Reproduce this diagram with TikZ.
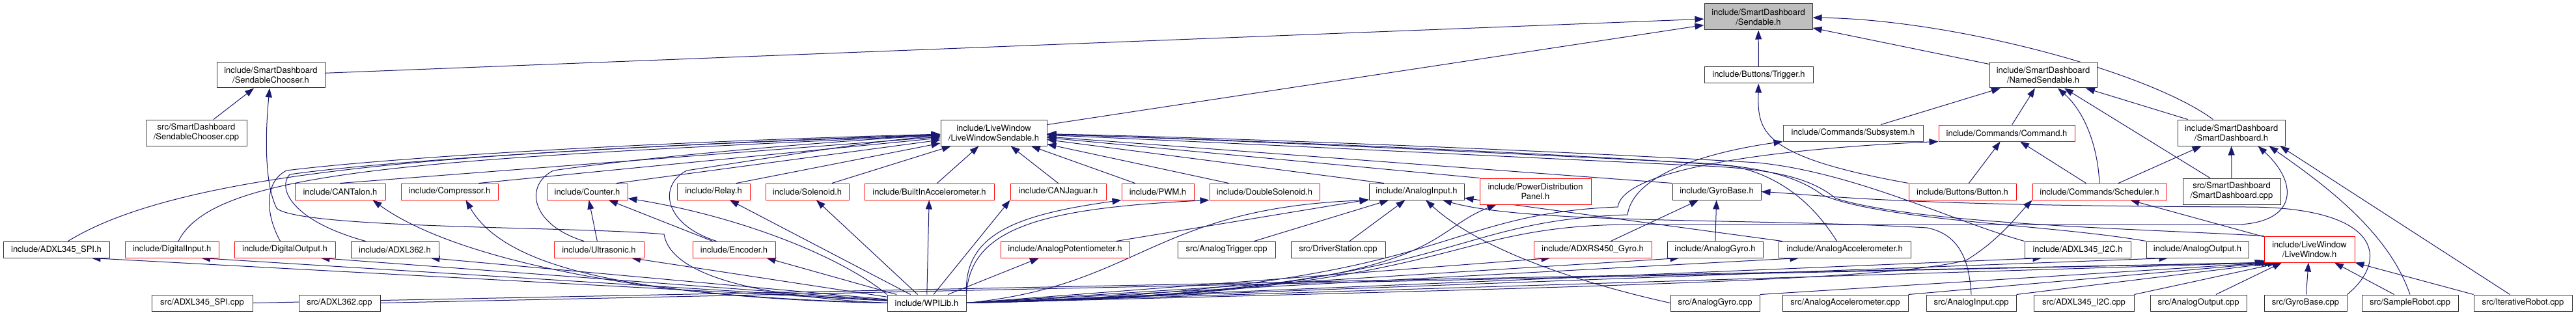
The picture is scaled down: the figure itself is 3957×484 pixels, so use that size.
\documentclass[tikz,border=0pt]{standalone}
\usepackage{fontspec}
\setmainfont{TeX Gyre Heros}
\usetikzlibrary{arrows.meta}
\definecolor{edgec}{HTML}{191970}
\definecolor{boxgrey}{HTML}{BFBFBF}
\pgfdeclarelayer{edgelayer}
\pgfsetlayers{edgelayer,main}
\newcommand\bxnode[7]{\node[#1,minimum width=#5pt,minimum height=#6pt] (#2) at (#3,#4) {#7};}
\begin{document}
\begin{tikzpicture}[x=1pt,y=-1pt,
  bx/.style={draw=black!80,line width=1pt,fill=white,inner sep=0pt,align=center,font=\fontsize{13}{15}\selectfont},
  rbx/.style={bx,draw=red},
  gbx/.style={bx,fill=boxgrey},
  lnk/.style={draw=edgec,line width=1pt,-{Triangle[length=14pt,width=10pt]}}]
\useasboundingbox (0,0) rectangle (3957,484);
% ---------- nodes ----------
\bxnode{gbx}{S}{2701}{26}{166}{40}{include/SmartDashboard\\/Sendable.h}
\bxnode{bx}{SCh}{416}{115.5}{166}{39}{include/SmartDashboard\\/SendableChooser.h}
\bxnode{bx}{Trg}{2701.5}{115.5}{167}{25}{include/Buttons/Trigger.h}
\bxnode{bx}{NS}{3138.5}{115.5}{165}{39}{include/SmartDashboard\\/NamedSendable.h}
\bxnode{bx}{SCcpp}{301.5}{204}{155}{40}{src/SmartDashboard\\/SendableChooser.cpp}
\bxnode{bx}{LWS}{1526.5}{204}{163}{40}{include/LiveWindow\\/LiveWindowSendable.h}
\bxnode{rbx}{Sub}{2846.5}{204.5}{215}{25}{include/Commands/Subsystem.h}
\bxnode{rbx}{Cmd}{3082.5}{204.5}{209}{25}{include/Commands/Command.h}
\bxnode{bx}{SDh}{3427.5}{204}{165}{40}{include/SmartDashboard\\/SmartDashboard.h}
\bxnode{rbx}{CT}{522.5}{294.5}{139}{25}{include/CANTalon.h}
\bxnode{rbx}{Cmp}{690.5}{294.5}{149}{25}{include/Compressor.h}
\bxnode{rbx}{Cnt}{902}{294.5}{124}{25}{include/Counter.h}
\bxnode{rbx}{Rel}{1096}{294.5}{112}{25}{include/Relay.h}
\bxnode{rbx}{Sol}{1240}{294.5}{128}{25}{include/Solenoid.h}
\bxnode{rbx}{BIA}{1427.5}{294.5}{199}{25}{include/BuiltInAccelerometer.h}
\bxnode{rbx}{CJ}{1625.5}{294.5}{147}{25}{include/CANJaguar.h}
\bxnode{rbx}{PWM}{1778.5}{294.5}{111}{25}{include/PWM.h}
\bxnode{rbx}{DS}{1942.5}{294.5}{169}{25}{include/DoubleSolenoid.h}
\bxnode{bx}{AI}{2176}{294.5}{146}{25}{include/AnalogInput.h}
\bxnode{rbx}{PDP}{2358.5}{294}{171}{40}{include/PowerDistribution\\Panel.h}
\bxnode{bx}{GB}{2637}{294.5}{136}{25}{include/GyroBase.h}
\bxnode{rbx}{Btn}{3014.5}{294.5}{165}{25}{include/Buttons/Button.h}
\bxnode{rbx}{Sch}{3225}{294.5}{206}{25}{include/Commands/Scheduler.h}
\bxnode{bx}{SDcpp}{3428}{294}{150}{40}{src/SmartDashboard\\/SmartDashboard.cpp}
\bxnode{bx}{SPIh}{86.5}{383.5}{163}{25}{include/ADXL345\_SPI.h}
\bxnode{rbx}{DI}{264}{383.5}{144}{25}{include/DigitalInput.h}
\bxnode{rbx}{DO}{437.5}{383.5}{155}{25}{include/DigitalOutput.h}
\bxnode{bx}{A362h}{606.5}{383.5}{135}{25}{include/ADXL362.h}
\bxnode{rbx}{US}{920}{383.5}{138}{25}{include/Ultrasonic.h}
\bxnode{rbx}{Enc}{1127.5}{383.5}{127}{25}{include/Encoder.h}
\bxnode{rbx}{AP}{1636}{383.5}{198}{25}{include/AnalogPotentiometer.h}
\bxnode{bx}{ATcpp}{1884}{383.5}{150}{25}{src/AnalogTrigger.cpp}
\bxnode{bx}{DScpp}{2055.5}{383.5}{145}{25}{src/DriverStation.cpp}
\bxnode{rbx}{ADXRS}{2446.5}{383.5}{181}{25}{include/ADXRS450\_Gyro.h}
\bxnode{bx}{AG}{2634.5}{383.5}{147}{25}{include/AnalogGyro.h}
\bxnode{bx}{AA}{2833.5}{383.5}{203}{25}{include/AnalogAccelerometer.h}
\bxnode{bx}{I2Ch}{3191.5}{383.5}{163}{25}{include/ADXL345\_I2C.h}
\bxnode{bx}{AO}{3375.5}{383.5}{157}{25}{include/AnalogOutput.h}
\bxnode{rbx}{LW}{3547.5}{383}{139}{40}{include/LiveWindow\\/LiveWindow.h}
\bxnode{bx}{SPIcpp}{310.5}{465.5}{155}{25}{src/ADXL345\_SPI.cpp}
\bxnode{bx}{A362cpp}{521.5}{465.5}{125}{25}{src/ADXL362.cpp}
\bxnode{bx}{W}{1423.5}{465.5}{121}{25}{include/WPILib.h}
\bxnode{bx}{AGcpp}{2634.5}{465.5}{137}{25}{src/AnalogGyro.cpp}
\bxnode{bx}{AAcpp}{2834.5}{465.5}{193}{25}{src/AnalogAccelerometer.cpp}
\bxnode{bx}{AIcpp}{3028}{465.5}{138}{25}{src/AnalogInput.cpp}
\bxnode{bx}{I2Ccpp}{3201}{465.5}{154}{25}{src/ADXL345\_I2C.cpp}
\bxnode{bx}{AOcpp}{3377}{465.5}{148}{25}{src/AnalogOutput.cpp}
\bxnode{bx}{GBcpp}{3541.5}{465.5}{127}{25}{src/GyroBase.cpp}
\bxnode{bx}{SRcpp}{3702}{465.5}{148}{25}{src/SampleRobot.cpp}
\bxnode{bx}{IRcpp}{3875.5}{465.5}{151}{25}{src/IterativeRobot.cpp}
% ---------- edges ----------
\begin{pgfonlayer}{edgelayer}
% to Sendable.h
\draw[lnk] (SCh) -- (S);
\draw[lnk] (LWS) -- (S);
\draw[lnk] (Trg) -- (S);
\draw[lnk] (NS) -- (S);
\draw[lnk] ([xshift=-28pt]SDh.north) .. controls (3300,110) and (3000,30) .. (S);
% SendableChooser.h
\draw[lnk] (SCcpp) -- (SCh);
\draw[lnk] (W.west) .. controls (1150,455) and (1030,420) .. (1020,360) .. controls (900,348) and (460,352) .. (425,320) .. controls (405,280) and (408,200) .. (SCh);
% LiveWindowSendable.h from the left
\draw[lnk] ([xshift=18pt]SPIh.north) .. controls (300,250) and (800,232) .. (LWS);
\draw[lnk] ([xshift=10pt]DI.north) .. controls (330,260) and (650,245) .. (LWS);
\draw[lnk] ([xshift=-7pt]DO.north) .. controls (408,330) and (405,280) .. (440,262) .. controls (600,242) and (1000,218) .. (LWS);
\draw[lnk] ([xshift=-45pt]A362h.north) .. controls (450,340) and (425,290) .. (445,268) .. controls (600,246) and (1000,222) .. (LWS);
\draw[lnk] (CT.north) -- (LWS);
\draw[lnk] ([xshift=45pt]Cmp.north) -- (LWS);
\draw[lnk] ([xshift=45pt]Cnt.north) -- (LWS);
\draw[lnk] ([xshift=-23pt]US.north) .. controls (815,345) and (805,285) .. (850,262) .. controls (1000,240) and (1300,215) .. (LWS);
\draw[lnk] ([xshift=35pt]Rel.north) -- (LWS);
\draw[lnk] ([xshift=-27pt]Enc.north) .. controls (1020,345) and (1010,285) .. (1055,262) .. controls (1200,240) and (1350,215) .. (LWS);
\draw[lnk] ([xshift=38pt]Sol.north) -- (LWS);
\draw[lnk] ([xshift=12pt]BIA.north) -- (LWS);
\draw[lnk] (CJ.north) -- (LWS);
\draw[lnk] ([xshift=-35pt]PWM.north) -- (LWS);
\draw[lnk] ([xshift=-55pt]DS.north) -- (LWS);
% LiveWindowSendable.h from the right
\draw[lnk] ([xshift=-50pt]AI.north) -- (LWS);
\draw[lnk] (PDP.north west) -- (LWS);
\draw[lnk] (GB.north west) -- (LWS);
\draw[lnk] ([xshift=-12pt]AA.north) .. controls (2790,320) and (2740,270) .. (2660,255) .. controls (2400,235) and (1900,215) .. (LWS);
\draw[lnk] (I2Ch.north west) .. controls (3000,340) and (2850,265) .. (2700,250) .. controls (2400,232) and (1900,212) .. (LWS);
\draw[lnk] (AO.north west) .. controls (3150,345) and (2900,340) .. (2800,300) .. controls (2760,270) and (2700,255) .. (2600,250) .. controls (2300,235) and (1900,215) .. (LWS);
\draw[lnk] (LW.north west) .. controls (3300,352) and (2950,345) .. (2820,305) .. controls (2780,272) and (2720,260) .. (2620,255) .. controls (2300,240) and (1900,220) .. (LWS);
% Counter.h
\draw[lnk] (US) -- (Cnt);
\draw[lnk] (Enc) -- (Cnt);
\draw[lnk] (W.north west) .. controls (1300,400) and (1150,335) .. (Cnt);
% WPILib.h to headers on the left
\draw[lnk] (W) -- ([xshift=54pt]SPIh.south);
\draw[lnk] (W) -- ([xshift=45pt]DI.south);
\draw[lnk] (W) -- ([xshift=55pt]DO.south);
\draw[lnk] (W) -- ([xshift=55pt]A362h.south);
\draw[lnk] (W.west) .. controls (1000,460) and (700,400) .. ([xshift=50pt]CT.south);
\draw[lnk] (W.west) .. controls (1000,455) and (780,420) .. ([xshift=25pt]Cmp.south);
\draw[lnk] (W) -- ([xshift=50pt]US.south);
\draw[lnk] (W) -- ([xshift=50pt]Enc.south);
\draw[lnk] (W) -- (Rel);
\draw[lnk] (W) -- (Sol);
\draw[lnk] (W) -- (BIA);
\draw[lnk] (W) -- (CJ.south west);
\draw[lnk] (W.north east) .. controls (1480,360) and (1560,330) .. (PWM.south west);
\draw[lnk] (W.north east) .. controls (1490,350) and (1600,320) .. (DS.south west);
\draw[lnk] (W) -- ([xshift=-40pt]AP.south);
\draw[lnk] (W.east) .. controls (1750,440) and (1770,320) .. (AI.south west);
% AnalogInput.h
\draw[lnk] (AP) -- (AI);
\draw[lnk] (ATcpp) -- (AI);
\draw[lnk] (DScpp) -- (AI);
\draw[lnk] (AGcpp.west) .. controls (2450,440) and (2280,390) .. (AI);
\draw[lnk] (AA) -- (AI);
\draw[lnk] (AIcpp.north) .. controls (3025,400) and (3010,360) .. (2960,350) .. controls (2700,335) and (2350,345) .. ([xshift=40pt]AI.south);
% GyroBase.h
\draw[lnk] (AG) -- (GB);
\draw[lnk] (ADXRS) -- (GB);
\draw[lnk] (GBcpp.north east) .. controls (3670,400) and (3660,318) .. (3450,318) .. controls (2900,316) and (2800,300) .. (GB.east);
% LiveWindow.h
\draw[lnk] (SPIcpp.east) -- (LW.south west);
\draw[lnk] (A362cpp.east) -- ([xshift=3pt]LW.south west);
\draw[lnk] (W.east) -- ([xshift=6pt]LW.south west);
\draw[lnk] (AGcpp.north east) -- ([xshift=10pt]LW.south west);
\draw[lnk] (AAcpp.north east) -- ([xshift=15pt]LW.south west);
\draw[lnk] (AIcpp.north east) -- ([xshift=20pt]LW.south west);
\draw[lnk] (I2Ccpp.north east) -- ([xshift=27pt]LW.south west);
\draw[lnk] (AOcpp) -- (LW);
\draw[lnk] (GBcpp) -- (LW);
\draw[lnk] (SRcpp) -- (LW);
\draw[lnk] (IRcpp.north west) -- (LW.south east);
% WPILib.h to headers on the right
\draw[lnk] (W.east) .. controls (2230,450) and (2180,360) .. ([xshift=-60pt]PDP.south);
\draw[lnk] (W.east) -- ([xshift=-65pt]ADXRS.south);
\draw[lnk] (W.east) -- ([xshift=-55pt]AG.south);
\draw[lnk] (W.east) -- ([xshift=-70pt]AA.south);
\draw[lnk] (W.east) -- ([xshift=-55pt]I2Ch.south);
\draw[lnk] (W.east) -- ([xshift=-45pt]AO.south);
\draw[lnk] (W.east) .. controls (2250,450) and (2200,340) .. (2500,330) .. controls (2510,260) and (2650,230) .. (Sub.south west);
\draw[lnk] (W.east) .. controls (2240,445) and (2190,330) .. (2485,318) .. controls (2495,250) and (2800,225) .. (Cmd.south west);
\draw[lnk] (W.east) .. controls (2500,440) and (2900,430) .. (3020,400) .. controls (3070,370) and (3100,330) .. (Sch.south west);
\draw[lnk] (W.east) .. controls (2250,452) and (2200,348) .. (2500,345) -- (3440,345) .. controls (3530,340) and (3530,280) .. ([xshift=-42pt]SDh.south east);
% Commands, Buttons, SmartDashboard
\draw[lnk] (LW) -- (Sch);
\draw[lnk] (Sch) -- (Cmd);
\draw[lnk] (Sch.north) .. controls (3222,220) and (3200,170) .. (NS);
\draw[lnk] (Sch) -- (SDh);
\draw[lnk] (Btn) -- (Cmd);
\draw[lnk] (Btn.north west) .. controls (2700,240) and (2700,200) .. (Trg);
\draw[lnk] (Cmd) -- (NS);
\draw[lnk] (Sub) -- (NS);
\draw[lnk] (SDh) -- (NS);
\draw[lnk] (SDcpp) -- (NS);
\draw[lnk] (SDcpp) -- (SDh);
\draw[lnk] (SRcpp.north) .. controls (3670,360) and (3580,290) .. ([xshift=-25pt]SDh.south east);
\draw[lnk] (IRcpp) -- ([xshift=-8pt]SDh.south east);
\end{pgfonlayer}
\end{tikzpicture}
\end{document}
